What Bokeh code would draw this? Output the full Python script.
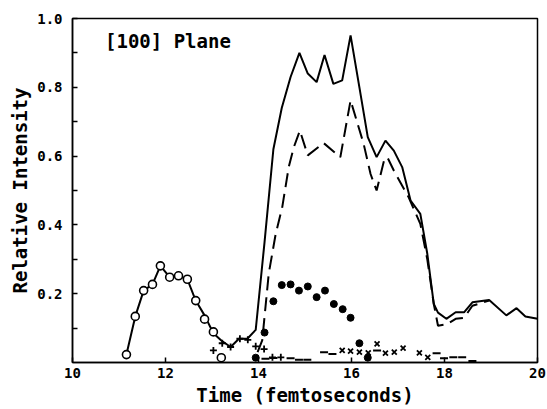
from bokeh.plotting import figure
from bokeh.models import FixedTicker, Range1d, Label
from bokeh.embed import file_html
from bokeh.resources import INLINE

# ---- data ----
x_ticks = [10, 12, 14, 16, 18, 20]
y_ticks = [0.2, 0.4, 0.6, 0.8, 1.0]
y_minor = [0.1, 0.3, 0.5, 0.7, 0.9]
y_tick_labels = ["0.2", "0.4", "0.6", "0.8", "1.0"]

total_t = [11.16, 11.35, 11.53, 11.72, 11.89, 12.09, 12.28, 12.47, 12.65, 12.84,
           13.03, 13.20, 13.40, 13.58, 13.76, 13.94, 14.13, 14.32, 14.50, 14.69,
           14.88, 15.06, 15.25, 15.42, 15.61, 15.80, 15.98, 16.17, 16.35, 16.54,
           16.73, 16.91, 17.09, 17.27, 17.48, 17.63, 17.77, 17.86, 18.04, 18.24,
           18.42, 18.60, 18.96, 19.33, 19.55, 19.74, 20.0]
total_v = [0.023, 0.134, 0.209, 0.227, 0.281, 0.248, 0.252, 0.242, 0.180, 0.137,
           0.085, 0.064, 0.045, 0.069, 0.069, 0.095, 0.350, 0.620, 0.740, 0.830,
           0.900, 0.840, 0.815, 0.894, 0.810, 0.820, 0.951, 0.800, 0.655, 0.597,
           0.645, 0.616, 0.568, 0.471, 0.432, 0.316, 0.170, 0.145, 0.127, 0.146,
           0.146, 0.175, 0.182, 0.137, 0.158, 0.134, 0.127]

dashed_t = [13.98, 14.08, 14.22, 14.37, 14.51, 14.65, 14.76, 14.89, 15.06, 15.40,
            15.76, 15.98, 16.26, 16.41, 16.54, 16.70, 16.77, 16.91, 17.23, 17.48,
            17.63, 17.77, 17.86, 18.06, 18.24, 18.42, 18.60, 18.96]
dashed_v = [0.030, 0.064, 0.258, 0.374, 0.451, 0.568, 0.626, 0.674, 0.602, 0.638,
            0.597, 0.762, 0.636, 0.548, 0.500, 0.587, 0.597, 0.558, 0.480, 0.403,
            0.300, 0.170, 0.107, 0.112, 0.127, 0.130, 0.165, 0.180]

circle_t = [11.16, 11.35, 11.53, 11.72, 11.89, 12.09, 12.28, 12.47, 12.65, 12.84, 13.03, 13.20]
circle_v = [0.023, 0.134, 0.209, 0.227, 0.281, 0.248, 0.252, 0.242, 0.180, 0.126, 0.089, 0.014]

plus_t = [13.03, 13.22, 13.40, 13.60, 13.77, 13.94, 14.12, 14.30, 14.48]
plus_v = [0.035, 0.056, 0.045, 0.069, 0.066, 0.047, 0.039, 0.015, 0.015]

dot_t = [13.94, 14.13, 14.32, 14.50, 14.69, 14.87, 15.06, 15.25, 15.43, 15.62, 15.81, 15.98, 16.17, 16.35]
dot_v = [0.014, 0.087, 0.178, 0.225, 0.227, 0.209, 0.221, 0.190, 0.209, 0.170, 0.155, 0.130, 0.056, 0.014]

cross_t = [15.80, 15.98, 16.17, 16.36, 16.55, 16.73, 16.92, 17.11, 17.46, 17.64]
cross_v = [0.035, 0.033, 0.030, 0.028, 0.054, 0.027, 0.030, 0.042, 0.028, 0.015]

dash_t = [14.15, 14.32, 14.69, 14.87, 15.05, 15.41, 15.59, 16.55, 17.83, 17.99, 18.19, 18.38, 18.60]
dash_v = [0.011, 0.013, 0.012, 0.008, 0.008, 0.030, 0.025, 0.035, 0.027, 0.012, 0.015, 0.015, 0.004]

FONT = "DejaVu Sans Mono"

p = figure(width=547, height=409, x_range=Range1d(10, 20), y_range=Range1d(0, 1.0),
           output_backend="svg", toolbar_location=None,
           min_border_left=72, min_border_right=10, min_border_top=18, min_border_bottom=47)
p.xgrid.visible = False
p.ygrid.visible = False
p.outline_line_color = "black"
p.outline_line_width = 1.5
p.background_fill_color = "white"
p.border_fill_color = "white"

xa = p.xaxis[0]
xa.ticker = FixedTicker(ticks=x_ticks, minor_ticks=[])
xa.axis_label = "Time (femtoseconds)"
ya = p.yaxis[0]
ya.ticker = FixedTicker(ticks=y_ticks, minor_ticks=y_minor)
ya.major_label_overrides = {t: l for t, l in zip(y_ticks, y_tick_labels)}
ya.axis_label = "Relative Intensity"

for ax in (xa, ya):
    ax.axis_line_color = "black"
    ax.axis_line_width = 1.5
    ax.major_tick_in = 5
    ax.major_tick_out = 0
    ax.minor_tick_in = 5
    ax.minor_tick_out = 0
    ax.major_tick_line_width = 1.5
    ax.minor_tick_line_width = 1.5
    ax.major_label_text_font = FONT
    ax.major_label_text_font_size = "14px"
    ax.major_label_text_font_style = "bold"
    ax.major_label_text_color = "black"
    ax.axis_label_text_font = FONT
    ax.axis_label_text_font_size = "19px"
    ax.axis_label_text_font_style = "bold"
    ax.axis_label_text_color = "black"

xa.major_label_standoff = 5
xa.axis_label_standoff = 3
ya.major_label_standoff = 10
ya.axis_label_standoff = 3

p.line(total_t, total_v, line_color="black", line_width=2)
p.line(dashed_t, dashed_v, line_color="black", line_width=2, line_dash="14 7")

p.scatter(circle_t, circle_v, marker="circle", size=8, fill_color="white",
          line_color="black", line_width=1.6)
p.scatter(plus_t, plus_v, marker="cross", size=7, line_color="black", line_width=1.8)
p.scatter(dot_t, dot_v, marker="circle", size=7, fill_color="black", line_color="black")
p.scatter(cross_t, cross_v, marker="x", size=7, line_color="black", line_width=1.8)
p.scatter(dash_t, dash_v, marker="dash", size=8, line_color="black", line_width=2)

p.add_layout(Label(x=10.7, y=0.935, text="[100] Plane", text_font=FONT,
                   text_font_size="19px", text_font_style="bold",
                   text_baseline="middle", text_color="black"))

open("out.html", "w").write(file_html(p, INLINE))
